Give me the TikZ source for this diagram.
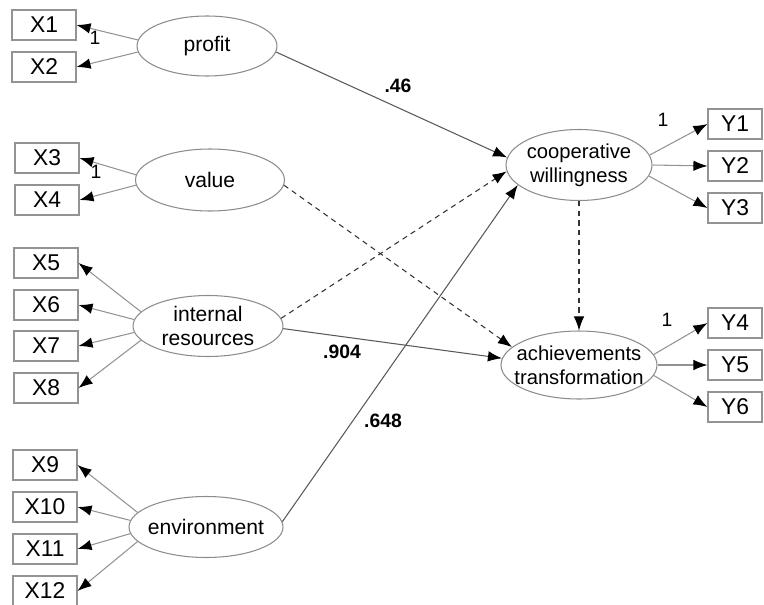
\documentclass[tikz,border=0pt]{standalone}
\usepackage{fontspec}
\setmainfont{Liberation Sans}
\usetikzlibrary{positioning,arrows.meta,shapes.geometric}

\begin{document}
\begin{tikzpicture}[
    x=0.02cm, y=-0.02cm,
    >={Latex[length=8pt,width=6pt,color=black]},
    obs/.style={rectangle, draw=gray!85, line width=0.6pt, minimum width=1.28cm, minimum height=0.6cm, inner sep=0pt, font=\fontsize{13}{15}\selectfont},
    obsr/.style={obs, minimum width=1.08cm},
    lat/.style={ellipse, draw=gray!90, line width=0.6pt, inner sep=0pt, minimum width=3cm, minimum height=1.22cm},
    lattext/.style={align=center, font=\fontsize{12}{13.5}\selectfont},
    load/.style={->, draw=gray!85, line width=0.6pt},
    reg/.style={->, draw=black!65, line width=0.6pt},
    regd/.style={reg, dash pattern=on 3pt off 2.5pt, draw=black!80},
    coef/.style={font=\bfseries\fontsize{11}{13}\selectfont},
    one/.style={font=\fontsize{11}{13}\selectfont}
]
\clip (0,0) rectangle (764,605);

% Lanes
\def\xObs{45}
\def\xLat{207}
\def\xEnd{579}
\def\xY{735}

% Latent variables
\node[lat, minimum width=2.8cm, minimum height=1.2cm, label={[lattext]center:profit}] (profit) at (\xLat,46) {};
\node[lat, minimum width=2.98cm, minimum height=1.24cm, label={[lattext]center:value}] (value) at (210,180) {};
\node[lat, label={[lattext]center:{internal\\resources}}] (internal) at (208,326) {};
\node[lat, minimum width=3.08cm, label={[lattext]center:environment}] (environ) at (206,527) {};
\node[lat, minimum width=2.92cm, minimum height=1.42cm, label={[lattext, font=\fontsize{11.5}{13.5}\selectfont]center:{cooperative\\willingness}}] (coop) at (\xEnd,165) {};
\node[lat, minimum width=3.12cm, minimum height=1.36cm, label={[lattext, font=\fontsize{11.5}{13.5}\selectfont]center:{achievements\\transformation}}] (achiev) at (\xEnd,365) {};

% Indicators of the exogenous factors
\node[obs] (x1) at (44,25) {X1};
\node[obs] (x2) at (44,67) {X2};
\node[obs] (x3) at (47,158) {X3};
\node[obs] (x4) at (47,200) {X4};
\node[obs] (x5) at (46,263) {X5};
\node[obs] (x6) at (46,305) {X6};
\node[obs] (x7) at (46,346) {X7};
\node[obs] (x8) at (46,388) {X8};
\node[obs] (x9) at (\xObs,465) {X9};
\node[obs] (x10) at (\xObs,507) {X10};
\node[obs] (x11) at (\xObs,549) {X11};
\node[obs] (x12) at (\xObs,591) {X12};

% Indicators of the endogenous factors
\node[obsr] (y1) at (\xY,124) {Y1};
\node[obsr] (y2) at (\xY,166) {Y2};
\node[obsr] (y3) at (\xY,208) {Y3};
\node[obsr] (y4) at (\xY,323) {Y4};
\node[obsr] (y5) at (\xY,365) {Y5};
\node[obsr] (y6) at (\xY,407) {Y6};

% Loadings
\draw[load] (profit.175) -- (x1.east);
\draw[load] (profit.185) -- (x2.east);
\draw[load] (value.176) -- (x3.east);
\draw[load] (value.184) -- (x4.east);
\draw[load] (internal.168) -- (x5.east);
\draw[load] (internal.175) -- (x6.east);
\draw[load] (internal.185) -- (x7.east);
\draw[load] (internal.192) -- (x8.east);
\draw[load] (environ.168) -- (x9.east);
\draw[load] (environ.175) -- (x10.east);
\draw[load] (environ.185) -- (x11.east);
\draw[load] (environ.192) -- (x12.east);

\draw[load] (coop.8) -- (y1.west);
\draw[load] (coop.east) -- (y2.west);
\draw[load] (coop.-9) -- (y3.west);
\draw[load] (achiev.8) -- (y4.west);
\draw[load] (achiev.east) -- (y5.west);
\draw[load] (achiev.-8) -- (y6.west);

\node[one] (fix1) at (95,38) {1};
\node[one] (fix3) at (96,172) {1};
\node[one] (fixY1) at (663,120) {1};
\node[one] (fixY4) at (667,320) {1};

% Structural paths
\draw[reg] (profit.-5) -- (coop.174);
\draw[regd] (value.-4) -- (achiev.165);
\draw[regd] (internal.6) -- (coop.185);
\draw[reg] (internal.-2) -- (achiev.175);
\draw[reg] (environ.4) -- (coop.198);
\draw[regd] (coop.south) -- (achiev.north);

% Coefficients
\node[coef] (c46) at (398,86) {.46};
\node[coef] (c904) at (342,352) {.904};
\node[coef] (c648) at (383,421) {.648};
\end{tikzpicture}
\end{document}
